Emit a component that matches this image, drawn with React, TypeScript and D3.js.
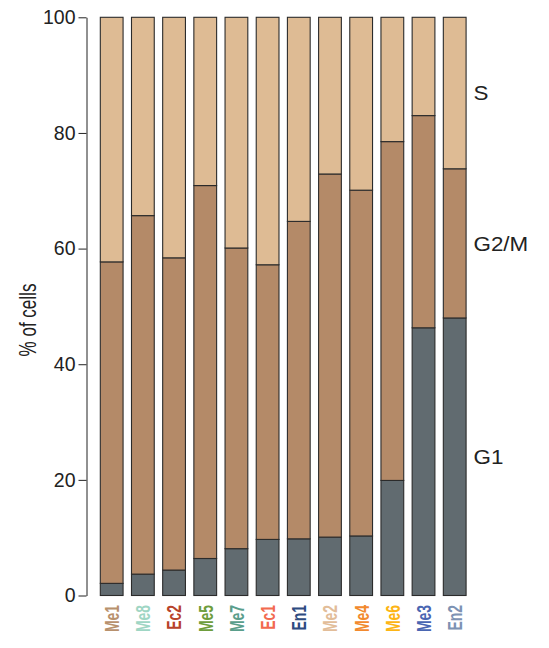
import React, { useEffect, useRef } from 'react';
import * as d3 from 'd3';

// clusters, left to right
const clusters = ['Me1', 'Me8', 'Ec2', 'Me5', 'Me7', 'Ec1', 'En1', 'Me2', 'Me4', 'Me6', 'Me3', 'En2'];
const clusterColors = ['#b8916d', '#9fd6c4', '#b8432b', '#6e9d3c', '#5a9e8b', '#f26a4f', '#2e4b80', '#e2bd99', '#f28a2e', '#fdb515', '#4a66b2', '#7d92b3'];

// % of cells in each phase
const g1 = [2.1, 3.7, 4.4, 6.4, 8.1, 9.7, 9.8, 10.1, 10.3, 19.9, 46.3, 48.0];
const g2m = [55.6, 62.0, 54.0, 64.5, 52.0, 47.5, 54.9, 62.8, 59.8, 58.6, 36.7, 25.8];
const sPhase = [42.3, 34.3, 41.6, 29.1, 39.9, 42.8, 35.3, 27.1, 29.9, 21.5, 17.0, 26.2];

const phases = ['G1', 'G2/M', 'S'];
const phaseColors = ['#616b70', '#b48a68', '#debb94'];
const yTicks = [0, 20, 40, 60, 80, 100];

const FONT = '"Liberation Sans", Arial, sans-serif';

function App() {
  const ref = useRef<SVGSVGElement>(null);

  useEffect(() => {
    const svg = d3.select(ref.current);
    svg.selectAll('*').remove();

    const rows = clusters.map((c, i) => ({ cluster: c, 'G1': g1[i], 'G2/M': g2m[i], 'S': sPhase[i] }));
    const stacked = d3.stack<any>().keys(phases)(rows);

    const x = d3.scaleBand().domain(clusters).range([96.1, 470.3]).paddingInner(0.27).paddingOuter(0.135);
    const y = d3.scaleLinear().domain([0, 100]).range([595.5, 17.3]);

    // bars
    svg.append('g')
      .selectAll('g')
      .data(stacked)
      .enter()
      .append('g')
        .attr('fill', (d, i) => phaseColors[i])
      .selectAll('rect')
      .data(d => d)
      .enter()
      .append('rect')
        .attr('x', (d: any) => x(d.data.cluster)!)
        .attr('y', d => y(d[1]))
        .attr('width', x.bandwidth())
        .attr('height', d => y(d[0]) - y(d[1]))
        .attr('stroke', '#2b2b2b')
        .attr('stroke-width', 1.1);

    // y axis
    const yAxis = svg.append('g')
      .attr('transform', 'translate(86.5,0)')
      .call(d3.axisLeft(y).tickValues(yTicks).tickSize(8).tickSizeOuter(0).tickPadding(3));
    yAxis.select('.domain').attr('stroke', '#222');
    yAxis.selectAll('.tick line').attr('stroke', '#222');
    yAxis.selectAll('text')
      .attr('font-family', FONT)
      .attr('font-size', 19.5)
      .attr('fill', '#222');

    // the original picture is squeezed vertically, so vertical text is short and thick
    svg.append('text')
      .attr('transform', 'translate(35.5,320) rotate(-90) scale(0.74,1)')
      .attr('text-anchor', 'middle')
      .attr('font-family', FONT)
      .attr('font-size', 23)
      .attr('fill', '#222')
      .text('% of cells');

    // cluster labels
    svg.append('g')
      .selectAll('text')
      .data(clusters)
      .enter()
      .append('text')
        .attr('transform', d => 'translate(' + (x(d)! + x.bandwidth() / 2) + ',605) rotate(-90) scale(0.68,1)')
        .attr('dy', '0.36em')
        .attr('text-anchor', 'end')
        .attr('font-family', FONT)
        .attr('font-weight', 'bold')
        .attr('font-size', 20.5)
        .attr('fill', (d, i) => clusterColors[i])
        .text(d => d);

    // phase labels beside the last bar
    const last = stacked.map(layer => layer[layer.length - 1]);
    svg.append('g')
      .selectAll('text')
      .data(last)
      .enter()
      .append('text')
        .attr('transform', d => 'translate(473.5,' + y((d[0] + d[1]) / 2) + ') scale(1.12,1)')
        .attr('dy', '0.36em')
        .attr('font-family', FONT)
        .attr('font-size', 20)
        .attr('fill', '#222')
        .text((d, i) => phases[i]);
  }, []);

  return (
    <svg ref={ref} width={549} height={648} style={{ position: 'absolute', left: 0, top: 0, background: '#fff' }}></svg>
  );
}

export default App;
